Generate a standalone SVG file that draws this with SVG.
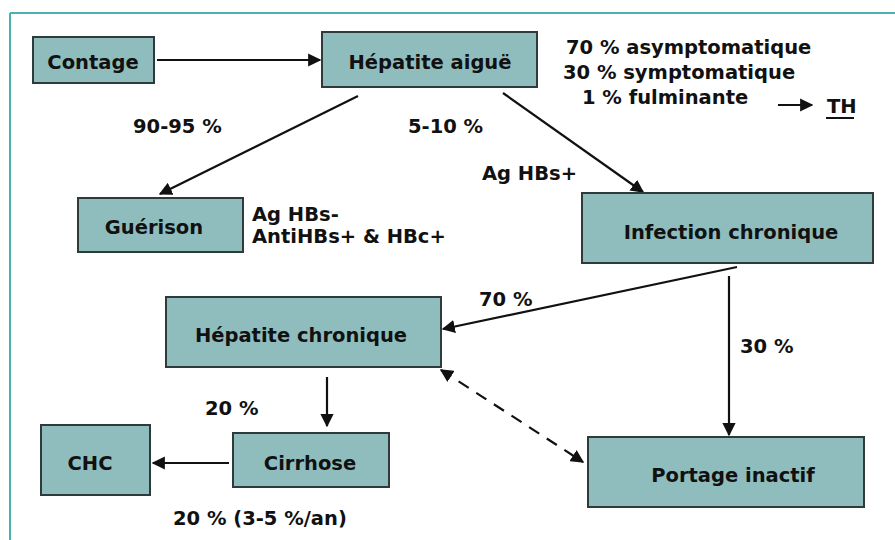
<svg xmlns="http://www.w3.org/2000/svg" width="895" height="540" viewBox="0 0 895 540">
<defs>
<style>
.box{fill:#8fbdbd;stroke:#2f3a3a;stroke-width:2}
.t{font-family:"DejaVu Sans","Liberation Sans",sans-serif;font-weight:bold;font-size:19.5px;fill:#111}
.c{text-anchor:middle}
.ln{stroke:#111;stroke-width:2.2;fill:none}
.dash{stroke-dasharray:12,9}
</style>
<marker id="ah" viewBox="0 0 10 10" refX="9" refY="5" markerWidth="6" markerHeight="6" markerUnits="strokeWidth" orient="auto-start-reverse">
<path d="M0,0 L10,5 L0,10 z" fill="#111"/>
</marker>
</defs>
<rect x="0" y="0" width="895" height="540" fill="#ffffff"/>
<g id="frame">
<line x1="10" y1="13" x2="895" y2="13" stroke="#4fb0b0" stroke-width="2"/>
<line x1="10" y1="13" x2="10" y2="540" stroke="#4fb0b0" stroke-width="2"/>
</g>
<g id="connectors">
<line class="ln" x1="157" y1="60" x2="320" y2="60" marker-end="url(#ah)"/>
<line class="ln" x1="358" y1="96" x2="160" y2="194" marker-end="url(#ah)"/>
<line class="ln" x1="503" y1="93" x2="643" y2="192" marker-end="url(#ah)"/>
<line class="ln" x1="737" y1="267" x2="443" y2="329" marker-end="url(#ah)"/>
<line class="ln" x1="729" y1="276" x2="729" y2="435" marker-end="url(#ah)"/>
<line class="ln" x1="327" y1="377" x2="327" y2="426" marker-end="url(#ah)"/>
<line class="ln" x1="229" y1="463" x2="153" y2="463" marker-end="url(#ah)"/>
<line class="ln dash" x1="441" y1="370" x2="583" y2="462" marker-start="url(#ah)" marker-end="url(#ah)"/>
<line class="ln" x1="778" y1="105" x2="812" y2="105" marker-end="url(#ah)"/>
</g>
<g id="contage">
<rect class="box" x="33" y="37" width="121" height="46"/>
<text class="t c" x="93" y="69">Contage</text>
</g>
<g id="hepatite-aigue">
<rect class="box" x="322" y="32" width="215" height="55"/>
<text class="t c" x="430" y="69">Hépatite aiguë</text>
</g>
<g id="guerison">
<rect class="box" x="78" y="198" width="165" height="54"/>
<text class="t c" x="154" y="234">Guérison</text>
</g>
<g id="infection-chronique">
<rect class="box" x="582" y="193" width="291" height="70"/>
<text class="t c" x="731" y="239">Infection chronique</text>
</g>
<g id="hepatite-chronique">
<rect class="box" x="166" y="297" width="275" height="70"/>
<text class="t c" x="301" y="342">Hépatite chronique</text>
</g>
<g id="cirrhose">
<rect class="box" x="233" y="433" width="156" height="54"/>
<text class="t c" x="310" y="470">Cirrhose</text>
</g>
<g id="chc">
<rect class="box" x="41" y="425" width="109" height="70"/>
<text class="t c" x="90" y="470">CHC</text>
</g>
<g id="portage-inactif">
<rect class="box" x="588" y="437" width="276" height="70"/>
<text class="t c" x="733" y="482">Portage inactif</text>
</g>
<g id="labels">
<text class="t" x="566" y="54">70 % asymptomatique</text>
<text class="t" x="563" y="79">30 % symptomatique</text>
<text class="t" x="582" y="104">1 % fulminante</text>
<text class="t" x="827" y="113">TH</text>
<line x1="826" y1="118" x2="854" y2="118" stroke="#111" stroke-width="2"/>
<text class="t" x="133" y="133">90-95 %</text>
<text class="t" x="408" y="133">5-10 %</text>
<text class="t" x="482" y="180">Ag HBs+</text>
<text class="t" x="252" y="221">Ag HBs-</text>
<text class="t" x="252" y="243">AntiHBs+ &amp; HBc+</text>
<text class="t" x="479" y="306">70 %</text>
<text class="t" x="740" y="353">30 %</text>
<text class="t" x="205" y="415">20 %</text>
<text class="t" x="173" y="525">20 % (3-5 %/an)</text>
</g>
</svg>
